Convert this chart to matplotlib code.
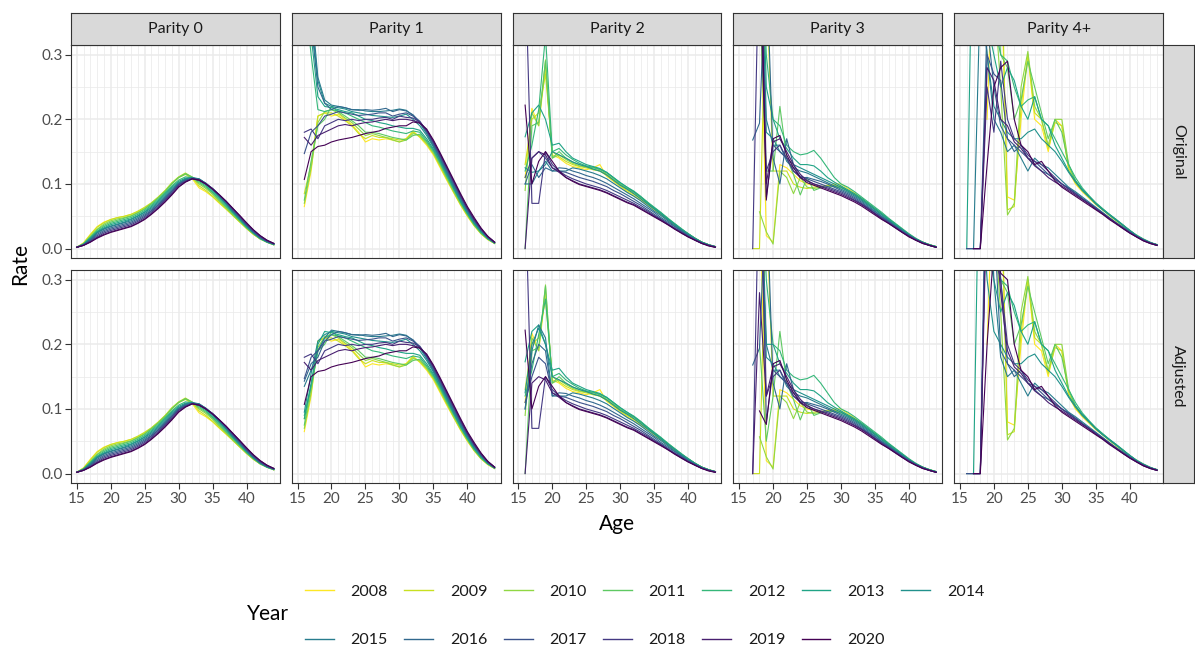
import numpy as np
import matplotlib
matplotlib.use("Agg")
import matplotlib.pyplot as plt
from matplotlib.lines import Line2D

nan = np.nan

# ---------------------------------------------------------------- data
years = list(range(2008, 2021))
parity_labels = ["Parity 0", "Parity 1", "Parity 2", "Parity 3", "Parity 4+"]
row_labels = ["Original", "Adjusted"]
x_ticks = [15, 20, 25, 30, 35, 40]
y_ticks = [0.0, 0.1, 0.2, 0.3]

ages_p0 = list(range(15, 45))
ages_p1 = list(range(16, 45))
ages_p2 = list(range(16, 45))
ages_p3 = list(range(17, 45))
ages_p4 = list(range(15, 45))

p0_rates = {
    2008: [.002,.009,.022,.034,.041,.045,.048,.050,.053,.057,.063,.070,.079,.089,.100,.110,.115,.108,.094,.088,.080,.070,.061,.051,.041,.031,.022,.015,.010,.006],
    2009: [.002,.008,.021,.033,.040,.045,.048,.050,.053,.058,.064,.071,.080,.090,.102,.111,.117,.110,.097,.090,.081,.071,.061,.051,.041,.031,.022,.015,.010,.006],
    2010: [.002,.008,.019,.030,.038,.043,.046,.048,.051,.056,.062,.070,.079,.089,.101,.110,.115,.110,.100,.093,.084,.073,.063,.052,.042,.032,.023,.015,.010,.006],
    2011: [.002,.007,.018,.029,.036,.041,.044,.047,.050,.055,.061,.069,.078,.088,.100,.110,.116,.111,.102,.095,.086,.075,.064,.053,.043,.032,.023,.015,.010,.006],
    2012: [.002,.007,.017,.027,.034,.039,.042,.045,.048,.053,.059,.067,.076,.086,.097,.106,.111,.110,.104,.097,.087,.077,.066,.055,.044,.033,.024,.016,.010,.006],
    2013: [.002,.007,.016,.026,.032,.037,.040,.043,.046,.051,.057,.065,.074,.084,.095,.104,.109,.110,.106,.099,.089,.079,.068,.056,.045,.034,.024,.016,.010,.007],
    2014: [.002,.006,.015,.025,.031,.035,.038,.041,.045,.050,.056,.063,.072,.082,.093,.102,.108,.110,.108,.101,.091,.080,.069,.057,.046,.035,.025,.016,.011,.007],
    2015: [.002,.006,.014,.024,.030,.034,.037,.040,.043,.048,.054,.061,.070,.080,.091,.101,.107,.109,.108,.101,.092,.081,.070,.058,.047,.036,.025,.017,.011,.007],
    2016: [.002,.006,.013,.022,.028,.032,.035,.038,.041,.046,.052,.059,.068,.078,.089,.100,.106,.109,.107,.101,.092,.082,.071,.059,.048,.036,.026,.017,.011,.007],
    2017: [.002,.006,.012,.020,.026,.030,.033,.036,.039,.044,.050,.058,.067,.077,.088,.099,.105,.108,.107,.101,.093,.083,.072,.060,.049,.037,.027,.018,.012,.007],
    2018: [.002,.005,.011,.018,.024,.028,.031,.034,.037,.042,.048,.056,.065,.075,.086,.098,.104,.108,.106,.100,.093,.083,.073,.061,.050,.038,.028,.019,.012,.008],
    2019: [.002,.005,.010,.017,.022,.026,.029,.032,.035,.040,.046,.054,.063,.073,.084,.096,.103,.108,.106,.100,.092,.083,.073,.062,.051,.039,.029,.020,.013,.008],
    2020: [.002,.005,.010,.016,.021,.025,.028,.031,.034,.039,.045,.053,.062,.072,.083,.095,.103,.108,.106,.100,.092,.083,.073,.062,.051,.040,.029,.020,.013,.008],
}

p1_original = {
    2008: [.065,.120,.205,.210,.205,.208,.200,.192,.180,.165,.170,.168,.170,.168,.165,.170,.182,.172,.160,.145,.125,.105,.086,.067,.050,.035,.023,.014,.008],
    2009: [.085,.130,.205,.210,.210,.205,.198,.190,.178,.170,.175,.172,.172,.170,.168,.170,.180,.173,.162,.147,.127,.107,.087,.068,.051,.036,.023,.014,.008],
    2010: [.070,.125,.195,.212,.215,.210,.202,.195,.185,.175,.178,.175,.172,.168,.165,.168,.178,.175,.163,.148,.129,.108,.088,.069,.052,.036,.024,.015,.008],
    2011: [.075,.135,.190,.200,.220,.212,.205,.198,.190,.180,.180,.178,.175,.172,.170,.168,.175,.177,.165,.150,.131,.110,.090,.071,.053,.037,.024,.015,.008],
    2012: [.400,.300,.215,.212,.215,.213,.210,.205,.200,.195,.190,.188,.185,.182,.180,.178,.182,.180,.167,.152,.133,.112,.092,.072,.054,.038,.025,.015,.009],
    2013: [.450,.330,.235,.220,.218,.215,.212,.210,.205,.200,.198,.195,.193,.190,.188,.186,.186,.183,.170,.154,.135,.114,.093,.073,.055,.039,.026,.016,.009],
    2014: [.500,.360,.260,.225,.220,.218,.216,.212,.210,.208,.206,.205,.204,.203,.205,.208,.200,.190,.175,.157,.137,.116,.095,.075,.057,.040,.027,.016,.009],
    2015: [.550,.380,.265,.230,.222,.220,.218,.215,.215,.213,.212,.212,.213,.214,.216,.214,.206,.194,.178,.159,.139,.118,.097,.077,.058,.042,.028,.017,.009],
    2016: [.600,.350,.250,.225,.215,.220,.218,.215,.214,.215,.214,.215,.217,.212,.215,.213,.207,.196,.180,.161,.141,.120,.099,.079,.060,.043,.029,.017,.009],
    2017: [.147,.180,.190,.205,.208,.212,.210,.208,.206,.207,.208,.210,.210,.205,.208,.210,.205,.197,.182,.163,.143,.122,.101,.080,.061,.044,.030,.018,.010],
    2018: [.180,.185,.170,.190,.195,.200,.198,.200,.198,.200,.200,.202,.203,.200,.205,.203,.202,.196,.183,.165,.145,.124,.103,.082,.062,.045,.030,.018,.010],
    2019: [.172,.160,.175,.180,.185,.190,.192,.190,.193,.195,.196,.198,.200,.198,.200,.200,.198,.195,.184,.166,.146,.125,.104,.083,.063,.046,.031,.019,.010],
    2020: [.107,.150,.158,.160,.165,.168,.170,.172,.175,.178,.180,.182,.186,.188,.190,.190,.196,.194,.185,.168,.148,.127,.106,.085,.065,.048,.032,.019,.010],
}
# adjusted rates differ from the original ones only at the youngest ages
p1_adjusted_young = {
    2012: {16: .090, 17: .135, 18: .190, 19: .210},
    2013: {16: .085, 17: .140, 18: .200, 19: .220},
    2014: {16: .095, 17: .155, 18: .205, 19: .215},
    2015: {16: .135, 17: .160, 18: .190, 19: .210},
    2016: {16: .143, 17: .170, 18: .180, 19: .205},
}

p2_original = {
    2008: [.110,.217,.190,.280,.145,.140,.132,.127,.125,.122,.125,.130,.112,.104,.096,.088,.082,.075,.068,.060,.052,.044,.036,.029,.022,.015,.010,.006,.003],
    2009: [.130,.200,.210,.270,.150,.142,.135,.130,.127,.125,.122,.120,.113,.105,.097,.090,.084,.077,.069,.061,.053,.045,.037,.029,.022,.016,.010,.006,.003],
    2010: [.090,.210,.190,.292,.140,.145,.138,.132,.128,.126,.123,.120,.115,.107,.099,.092,.087,.079,.071,.062,.054,.046,.038,.030,.023,.016,.010,.006,.003],
    2011: [0.00,.190,.195,.290,.140,.150,.140,.134,.130,.127,.125,.122,.117,.109,.100,.093,.088,.080,.072,.063,.055,.047,.038,.030,.023,.016,.010,.006,.003],
    2012: [.120,.160,.215,.330,.150,.155,.145,.138,.132,.128,.126,.123,.118,.110,.102,.095,.089,.081,.072,.064,.056,.047,.039,.031,.023,.016,.010,.006,.003],
    2013: [.173,.210,.222,.200,.160,.163,.150,.140,.135,.130,.127,.124,.118,.110,.102,.095,.088,.080,.071,.063,.055,.046,.038,.030,.023,.016,.010,.006,.003],
    2014: [.125,.118,.120,.130,.150,.145,.140,.134,.130,.127,.123,.120,.114,.106,.098,.092,.085,.077,.069,.061,.053,.045,.037,.029,.022,.015,.010,.006,.003],
    2015: [.100,.100,.120,.135,.120,.120,.120,.125,.123,.120,.117,.113,.108,.101,.094,.087,.081,.074,.066,.058,.051,.043,.035,.028,.021,.015,.009,.005,.003],
    2016: [.100,.130,.110,.125,.120,.125,.124,.120,.117,.113,.110,.106,.101,.095,.089,.083,.077,.070,.063,.056,.048,.041,.034,.027,.020,.014,.009,.005,.003],
    2017: [.110,.140,.150,.140,.125,.120,.118,.114,.110,.107,.104,.100,.096,.090,.085,.079,.073,.067,.060,.053,.046,.039,.032,.026,.019,.014,.009,.005,.003],
    2018: [.450,.070,.070,.150,.130,.120,.113,.108,.104,.100,.097,.094,.090,.085,.080,.075,.070,.064,.058,.051,.045,.038,.031,.025,.019,.013,.008,.005,.002],
    2019: [0.00,.140,.150,.145,.125,.118,.110,.105,.100,.097,.094,.091,.087,.082,.077,.072,.068,.062,.056,.050,.044,.037,.031,.024,.018,.013,.008,.005,.002],
    2020: [.222,.100,.135,.150,.135,.120,.110,.104,.099,.096,.093,.090,.086,.081,.076,.071,.067,.061,.055,.049,.043,.037,.030,.024,.018,.013,.008,.004,.002],
}
p2_adjusted_young = {
    2012: {19: .270},
    2013: {17: .220, 18: .230},
    2014: {17: .200, 18: .225, 19: .200},
    2015: {17: .190, 18: .230, 19: .210},
    2016: {17: .170, 18: .200, 19: .190},
    2017: {17: .150, 18: .180, 19: .170},
}

p3_original = {
    2008: [nan,.450,.020,.010,.130,.125,.115,.105,.100,.098,.095,.097,.100,.100,.093,.086,.078,.070,.062,.054,.046,.038,.030,.022,.015,.010,.006,.003],
    2009: [0.00,0.00,.420,.120,.120,.120,.100,.095,.093,.095,.096,.098,.098,.096,.090,.084,.077,.069,.061,.053,.045,.037,.029,.022,.015,.010,.006,.003],
    2010: [nan,.057,.026,.007,.120,.110,.085,.110,.095,.093,.095,.097,.097,.095,.090,.084,.077,.069,.061,.053,.045,.037,.029,.021,.015,.010,.006,.003],
    2011: [nan,.400,.120,.120,.220,.140,.115,.083,.110,.090,.094,.096,.096,.094,.089,.083,.076,.068,.061,.053,.045,.037,.029,.021,.015,.010,.006,.003],
    2012: [nan,.550,.300,.200,.190,.160,.150,.145,.147,.152,.140,.125,.110,.100,.095,.088,.080,.072,.064,.056,.047,.039,.031,.023,.016,.010,.006,.003],
    2013: [nan,.600,.250,.200,.170,.155,.140,.130,.130,.128,.120,.110,.103,.097,.091,.085,.078,.070,.062,.054,.046,.038,.030,.022,.015,.010,.006,.003],
    2014: [nan,.500,.180,.170,.150,.140,.130,.125,.120,.115,.110,.105,.100,.095,.089,.083,.076,.068,.060,.052,.044,.036,.029,.021,.015,.010,.006,.003],
    2015: [nan,.550,.200,.160,.160,.135,.125,.120,.117,.112,.107,.102,.097,.092,.087,.081,.074,.066,.058,.050,.043,.035,.028,.021,.014,.009,.005,.003],
    2016: [.168,.194,.450,.140,.100,.170,.130,.110,.110,.107,.104,.100,.095,.090,.085,.079,.072,.064,.057,.049,.042,.034,.027,.020,.014,.009,.005,.002],
    2017: [nan,.600,.080,.160,.150,.140,.120,.112,.108,.104,.100,.096,.092,.088,.083,.077,.070,.063,.055,.048,.041,.034,.026,.020,.014,.009,.005,.002],
    2018: [0.00,.500,.120,.150,.160,.140,.120,.110,.105,.100,.097,.094,.090,.086,.081,.075,.069,.062,.054,.047,.040,.033,.026,.019,.013,.009,.005,.002],
    2019: [nan,.450,.100,.165,.170,.150,.130,.115,.105,.100,.096,.092,.088,.084,.079,.074,.068,.061,.054,.046,.039,.032,.025,.019,.013,.008,.005,.002],
    2020: [nan,.550,.075,.170,.175,.145,.125,.110,.102,.098,.094,.090,.086,.082,.077,.072,.066,.059,.052,.045,.039,.032,.025,.018,.013,.008,.005,.002],
}
p3_adjusted_young = {
    2011: {18: .200, 19: .050},
    2013: {18: .450, 19: .200},
    2019: {17: 0.00, 18: .280, 19: .120},
    2020: {18: .097, 19: .076},
}

p4_original = {
    2008: [nan,nan,nan,nan,.200,.500,.450,.080,.075,.200,.300,.200,.190,.150,.200,.190,.120,.100,.088,.078,.068,.060,.051,.043,.035,.027,.020,.014,.009,.006],
    2009: [nan,nan,nan,nan,nan,.600,.500,.060,.065,.220,.300,.210,.200,.155,.195,.190,.125,.102,.090,.079,.069,.060,.052,.043,.035,.027,.020,.014,.009,.006],
    2010: [nan,nan,nan,nan,.350,.400,.250,.052,.070,.250,.305,.220,.200,.160,.200,.200,.130,.105,.090,.080,.070,.061,.052,.044,.036,.028,.020,.014,.009,.006],
    2011: [nan,nan,nan,nan,.400,.450,.300,.280,.200,.230,.290,.250,.210,.170,.200,.180,.130,.105,.091,.080,.070,.061,.052,.044,.036,.028,.020,.014,.009,.006],
    2012: [nan,nan,nan,.500,.450,.350,.300,.290,.250,.220,.230,.235,.200,.190,.170,.150,.130,.110,.094,.082,.071,.062,.053,.045,.037,.028,.021,.015,.010,.006],
    2013: [nan,0.00,.600,.500,.350,.300,.250,.280,.260,.220,.200,.235,.200,.190,.160,.140,.120,.105,.092,.081,.070,.061,.053,.045,.036,.028,.020,.014,.009,.006],
    2014: [nan,nan,.400,.450,.300,.220,.200,.180,.170,.170,.180,.185,.170,.160,.150,.135,.118,.103,.090,.080,.069,.060,.052,.044,.036,.028,.020,.014,.009,.006],
    2015: [nan,0.00,0.00,.400,.300,.200,.180,.150,.160,.140,.120,.140,.130,.125,.115,.105,.095,.088,.080,.072,.064,.056,.048,.040,.033,.026,.019,.014,.009,.006],
    2016: [nan,0.00,0.00,0.00,.350,.250,.190,.170,.150,.160,.140,.130,.120,.115,.108,.100,.094,.086,.078,.070,.063,.055,.047,.040,.033,.026,.019,.013,.009,.006],
    2017: [nan,0.00,0.00,0.00,.300,.270,.260,.170,.160,.150,.140,.135,.125,.115,.107,.100,.093,.085,.077,.070,.062,.055,.047,.039,.032,.025,.019,.013,.009,.005],
    2018: [nan,nan,0.00,0.00,.250,.180,.290,.200,.170,.160,.145,.135,.130,.120,.110,.100,.092,.085,.077,.070,.062,.054,.047,.039,.032,.025,.018,.013,.008,.005],
    2019: [nan,nan,0.00,0.00,.280,.260,.200,.190,.165,.155,.140,.128,.120,.110,.103,.097,.090,.083,.076,.069,.061,.054,.046,.039,.031,.024,.018,.012,.008,.005],
    2020: [nan,nan,0.00,0.00,.130,.250,.280,.290,.200,.160,.150,.130,.135,.120,.105,.095,.088,.081,.074,.067,.060,.053,.045,.038,.031,.024,.018,.012,.008,.005],
}
p4_adjusted_young = {
    2013: {16: nan, 17: 0.00, 18: .600},
    2015: {18: 0.00, 19: .500, 20: .300},
    2016: {19: .600, 20: .400},
    2017: {19: .500, 20: .450, 21: .300},
    2018: {19: .500, 20: .350, 21: .300},
    2019: {19: .450, 20: .400, 21: .280},
    2020: {19: .200, 20: .350, 21: .310, 22: .300},
}


def with_overrides(original, ages, overrides):
    out = {}
    for yr, vals in original.items():
        vals = list(vals)
        for age, v in overrides.get(yr, {}).items():
            vals[ages.index(age)] = v
        out[yr] = vals
    return out


panels = [
    (ages_p0, p0_rates, p0_rates),
    (ages_p1, p1_original, with_overrides(p1_original, ages_p1, p1_adjusted_young)),
    (ages_p2, p2_original, with_overrides(p2_original, ages_p2, p2_adjusted_young)),
    (ages_p3, p3_original, with_overrides(p3_original, ages_p3, p3_adjusted_young)),
    (ages_p4, p4_original, with_overrides(p4_original, ages_p4, p4_adjusted_young)),
]

# viridis, reversed: earliest year yellow, latest year dark purple
cmap = plt.get_cmap("viridis")
year_colors = {yr: cmap(1 - i / (len(years) - 1)) for i, yr in enumerate(years)}

# ---------------------------------------------------------------- layout
FONT = ["Lato", "DejaVu Sans"]
plt.rcParams["font.family"] = FONT
W, H = 1195, 649
fig = plt.figure(figsize=(W / 100, H / 100), dpi=100)
fig.patch.set_facecolor("white")


def box(x0, y0, x1, y1):
    return [x0 / W, 1 - y1 / H, (x1 - x0) / W, (y1 - y0) / H]


col_left = [71.0, 291.8, 512.6, 733.4, 954.2]
panel_w = 208.7
row_top = [45.0, 270.0]
panel_h = 213.3
strip_top = 12.5
strip_right = 1194.0
border = "#333333"
grid_col = "#EBEBEB"

for r, row_name in enumerate(row_labels):
    for c, (ages, orig, adj) in enumerate(panels):
        x0, y0 = col_left[c], row_top[r]
        ax = fig.add_axes(box(x0, y0, x0 + panel_w, y0 + panel_h))
        ax.set_xlim(14.16, 44.87)
        ax.set_ylim(-0.015, 0.315)
        ax.set_xticks(x_ticks)
        ax.set_xticks(np.arange(15, 45), minor=True)
        ax.set_yticks(y_ticks)
        ax.set_yticks([0.05, 0.15, 0.25], minor=True)
        ax.grid(which="major", color=grid_col, lw=1.1)
        ax.grid(which="minor", color=grid_col, lw=0.55)
        ax.set_axisbelow(True)
        for s in ax.spines.values():
            s.set_color(border)
            s.set_linewidth(0.8)
        ax.tick_params(which="minor", length=0)
        ax.tick_params(which="major", length=4.2, width=0.8, color=border,
                       labelcolor="#4D4D4D", labelsize=11, pad=2)
        if c > 0:
            ax.tick_params(axis="y", which="major", length=0, labelleft=False)
        else:
            ax.set_yticklabels([f"{v:.1f}" for v in y_ticks])
        if r == 0:
            ax.tick_params(axis="x", which="major", length=0, labelbottom=False)

        data = orig if r == 0 else adj
        for yr in years:
            ax.plot(ages, data[yr], color=year_colors[yr], lw=0.8,
                    solid_joinstyle="round")

        # column strip on top of the first row
        if r == 0:
            sx = fig.add_axes(box(x0, strip_top, x0 + panel_w, row_top[0]))
            sx.set_facecolor("#D9D9D9")
            sx.set_xticks([]); sx.set_yticks([])
            for s in sx.spines.values():
                s.set_color(border); s.set_linewidth(0.8)
            sx.text(0.5, 0.5, parity_labels[c], ha="center", va="center",
                    fontsize=11.5, color="#1A1A1A", transform=sx.transAxes)

    # row strip on the right side
    sy = fig.add_axes(box(col_left[-1] + panel_w, row_top[r], strip_right, row_top[r] + panel_h))
    sy.set_facecolor("#D9D9D9")
    sy.set_xticks([]); sy.set_yticks([])
    for s in sy.spines.values():
        s.set_color(border); s.set_linewidth(0.8)
    sy.text(0.5, 0.5, row_name, ha="center", va="center", rotation=-90,
            fontsize=11.5, color="#1A1A1A", transform=sy.transAxes)

# axis titles
fig.text((col_left[0] + col_left[-1] + panel_w) / 2 / W, 1 - 524 / H, "Age",
         ha="center", va="center", fontsize=15, color="black")
fig.text(20 / W, 1 - (row_top[0] + row_top[1] + panel_h) / 2 / H, "Rate",
         ha="center", va="center", rotation=90, fontsize=15, color="black")

# legend: two rows, filled row-wise
handles = [Line2D([], [], color=year_colors[yr], lw=1.0) for yr in years]
labels = [str(yr) for yr in years]
ncol = 7
order = []
for j in range(ncol):
    order.append(j)
    if j + ncol < len(years):
        order.append(j + ncol)
leg = fig.legend([handles[i] for i in order], [labels[i] for i in order],
                 ncol=ncol, loc="center left", bbox_to_anchor=(305 / W, 1 - 616 / H),
                 frameon=False, fontsize=11.5, handlelength=1.8, handletextpad=1.05,
                 columnspacing=1.03, labelspacing=2.15, borderpad=0, borderaxespad=0)
for t in leg.get_texts():
    t.set_color("#1A1A1A")
fig.text(268 / W, 1 - 614 / H, "Year", ha="center", va="center", fontsize=15, color="black")

fig.savefig("out.png", dpi=100)
